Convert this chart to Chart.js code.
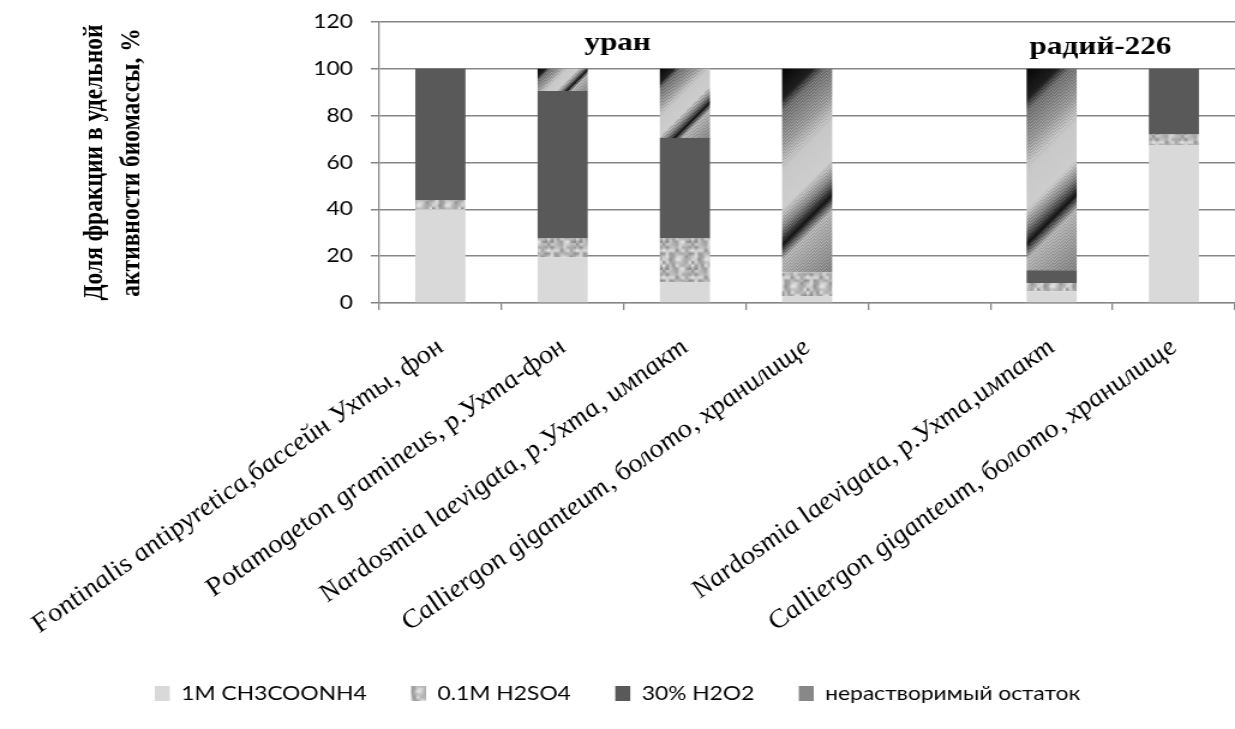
<!DOCTYPE html>
<html>
<head>
<meta charset="utf-8">
<script src="https://cdn.jsdelivr.net/npm/chart.js@4.4.1/dist/chart.umd.min.js"></script>
<style>
  html, body { margin: 0; padding: 0; background: #fff; overflow: hidden; }
  /* the source picture is a horizontally stretched Excel chart, so draw narrow and stretch */
  #wrap { width: 1029px; height: 729px; transform: scaleX(1.2002); transform-origin: 0 0; }
</style>
</head>
<body>
<div id="wrap"><canvas id="fractionChart"></canvas></div>
<script>
// categories (5th slot is the empty gap between the two groups)
var categories = [
    'Fontinalis antipyretica,бассейн Ухты, фон',
    'Potamogeton gramineus, р.Ухта-фон',
    'Nardosmia laevigata, р.Ухта, импакт',
    'Calliergon giganteum, болото, хранилище',
    '',
    'Nardosmia laevigata, р.Ухта,импакт',
    'Calliergon giganteum, болото, хранилище'
];

// fractions, %
var ch3coonh4 = [40, 19.5, 9, 3, null, 5, 67.5];
var h2so4     = [4, 8, 18.5, 10, null, 3.5, 4.5];
var h2o2      = [56, 63, 43, 0, null, 5.5, 28];
var insoluble = [0, 9.5, 29.5, 87, null, 86, 0];

var seriesNames = ['1M CH3COONH4', '0.1M H2SO4', '30% H2O2', 'нерастворимый остаток'];
var yTicks = [0, 20, 40, 60, 80, 100, 120];

// group captions on the plot (category position, value level)
var groupNames = ['уран', 'радий-226'];
var groupPos   = [1.45, 5.4];
var groupLevel = [111, 109];

var barPct = 0.41;
var stretch = 1.2002;

// --- fill textures ---------------------------------------------------------
function hash(i) {
    var h = Math.sin(i * 12.9898 + 78.233) * 43758.5453;
    return h - Math.floor(h);
}

function speckleCanvas() {
    var n = 9;
    var small = document.createElement('canvas');
    small.width = n; small.height = n;
    var g = small.getContext('2d');
    var img = g.createImageData(n, n);
    for (var i = 0; i < n * n; i++) {
        var v = Math.round(135 + hash(i) * 95);
        img.data[i * 4] = v; img.data[i * 4 + 1] = v; img.data[i * 4 + 2] = v; img.data[i * 4 + 3] = 255;
    }
    g.putImageData(img, 0, 0);
    var big = document.createElement('canvas');
    big.width = 24; big.height = 27;
    var bg = big.getContext('2d');
    bg.imageSmoothingEnabled = true;
    bg.drawImage(small, 0, 0, 24, 27);
    return big;
}

// grey levels along the diagonal of a bar segment (0 = top-left, 1 = bottom-right)
var stripeStops = [[0, 5], [0.12, 30], [0.17, 110], [0.3, 150], [0.4, 200], [0.55, 205], [0.62, 130], [0.69, 20], [0.75, 175], [0.87, 150], [1, 125]];

function shade(t) {
    for (var k = 1; k < stripeStops.length; k++) {
        if (t <= stripeStops[k][0]) {
            var a = stripeStops[k - 1], b = stripeStops[k];
            return a[1] + (b[1] - a[1]) * (t - a[0]) / (b[0] - a[0]);
        }
    }
    return stripeStops[stripeStops.length - 1][1];
}

function stripeCanvas(w, h) {
    var c = document.createElement('canvas');
    c.width = Math.max(1, w); c.height = Math.max(1, h);
    var g = c.getContext('2d');
    var img = g.createImageData(c.width, c.height);
    for (var y = 0; y < c.height; y++) {
        for (var x = 0; x < c.width; x++) {
            var d = x * stretch + y;
            var v = shade(d / (c.width * stretch + c.height));
            if (v > 60 && v < 190) v += (Math.round(d) % 3 === 0) ? 22 : -6;
            v = Math.max(0, Math.min(255, Math.round(v)));
            var p = (y * c.width + x) * 4;
            img.data[p] = v; img.data[p + 1] = v; img.data[p + 2] = v; img.data[p + 3] = 255;
        }
    }
    g.putImageData(img, 0, 0);
    return c;
}

// small two-tone diagonal tile for the legend swatch (5 x 6, period 6 along x*1.2 + y)
function legendStripeCanvas() {
    var c = document.createElement('canvas');
    c.width = 5; c.height = 6;
    var g = c.getContext('2d');
    var img = g.createImageData(5, 6);
    for (var y = 0; y < 6; y++) {
        for (var x = 0; x < 5; x++) {
            var t = ((x * 1.2 + y) % 6) / 6;
            var v = t < 0.45 ? 85 : (t < 0.6 ? 140 : 195);
            var p = (y * 5 + x) * 4;
            img.data[p] = v; img.data[p + 1] = v; img.data[p + 2] = v; img.data[p + 3] = 255;
        }
    }
    g.putImageData(img, 0, 0);
    return c;
}

var canvas = document.getElementById('fractionChart');
var mainCtx = canvas.getContext('2d');
var specklePattern = mainCtx.createPattern(speckleCanvas(), 'repeat');
var legendStripe = mainCtx.createPattern(legendStripeCanvas(), 'repeat');
var stripeCache = {};

function insolubleFill(ctx) {
    if (ctx.type !== 'data') return legendStripe;
    var chart = ctx.chart, i = ctx.dataIndex, v = insoluble[i];
    var xs = chart.scales.x, ys = chart.scales.y;
    if (!v || !xs || !ys) return '#888888';
    var w = xs.width / categories.length * barPct;
    var left = xs.getPixelForValue(i) - w / 2;
    var base = ch3coonh4[i] + h2so4[i] + h2o2[i];
    var top = ys.getPixelForValue(base + v);
    var bottom = ys.getPixelForValue(base);
    var key = i + ':' + Math.round(left) + ':' + Math.round(top) + ':' + Math.round(bottom);
    if (!stripeCache[key]) {
        var pat = chart.ctx.createPattern(stripeCanvas(Math.ceil(w) + 1, Math.ceil(bottom - top) + 1), 'no-repeat');
        pat.setTransform(new DOMMatrix([1, 0, 0, 1, Math.floor(left), Math.floor(top)]));
        stripeCache[key] = pat;
    }
    return stripeCache[key];
}

var groupLabelPlugin = {
    id: 'groupLabels',
    afterDatasetsDraw: function(chart) {
        var xs = chart.scales.x, ys = chart.scales.y, g = chart.ctx;
        var catW = xs.width / categories.length;
        g.save();
        g.fillStyle = '#000';
        g.textAlign = 'center';
        g.textBaseline = 'middle';
        g.font = 'bold 26px "Liberation Serif"';
        groupNames.forEach(function(name, k) {
            g.fillText(name, xs.left + (groupPos[k] + 0.5) * catW, ys.getPixelForValue(groupLevel[k]));
        });
        g.restore();
    }
};

var gridGrey = '#868686';
var serif = '"Liberation Serif", "Times New Roman", serif';

var chart = new Chart(mainCtx, {
    type: 'bar',
    data: {
        labels: categories,
        datasets: [
            { label: seriesNames[0], data: ch3coonh4, backgroundColor: '#d9d9d9' },
            { label: seriesNames[1], data: h2so4, backgroundColor: specklePattern },
            { label: seriesNames[2], data: h2o2, backgroundColor: '#595959' },
            { label: seriesNames[3], data: insoluble, backgroundColor: insolubleFill }
        ]
    },
    options: {
        responsive: true,
        maintainAspectRatio: false,
        animation: false,
        devicePixelRatio: 1,
        layout: { padding: { top: 22, right: 0, left: 0, bottom: 16 } },
        datasets: {
            bar: { borderWidth: 0, barPercentage: barPct, categoryPercentage: 1 }
        },
        plugins: {
            legend: {
                position: 'bottom',
                labels: {
                    boxWidth: 12.5,
                    boxHeight: 15,
                    padding: 37,
                    color: '#000',
                    font: { family: 'Lato', size: 19 }
                }
            },
            tooltip: { enabled: false }
        },
        scales: {
            x: {
                stacked: true,
                grid: { display: true, drawOnChartArea: false, drawTicks: true, tickLength: 7, color: gridGrey, lineWidth: 1.3, offset: true },
                border: { color: gridGrey, width: 1.3 },
                ticks: {
                    autoSkip: false,
                    maxRotation: 40,
                    minRotation: 40,
                    padding: 23,
                    color: '#000',
                    font: { family: serif, style: 'italic', size: 25 }
                },
                afterFit: function(scale) {
                    // long rotated labels may run into the y axis area, as in the source
                    scale.height = 344;
                    scale.paddingLeft = 0;
                    scale.paddingRight = 0;
                }
            },
            y: {
                stacked: true,
                min: 0,
                max: 120,
                afterBuildTicks: function(scale) {
                    scale.ticks = yTicks.map(function(v) { return { value: v }; });
                },
                grid: { color: gridGrey, lineWidth: 1.5, tickLength: 7, tickBorderDash: [], borderDash: [5, 2.5] },
                border: { color: gridGrey, width: 1.3 },
                ticks: {
                    padding: 15,
                    color: '#000',
                    font: { family: 'Lato', size: 19 }
                },
                title: {
                    display: true,
                    text: ['Доля фракции в удельной', 'активности биомассы, %'],
                    color: '#000',
                    font: { family: serif, weight: 'bold', size: 23.5, lineHeight: 1.33 },
                    padding: { top: 63, bottom: 0 }
                },
                afterFit: function(scale) {
                    scale.width = 316;
                    scale.paddingTop = 0;
                    scale.paddingBottom = 0;
                }
            }
        }
    },
    plugins: [groupLabelPlugin]
});
</script>
</body>
</html>
